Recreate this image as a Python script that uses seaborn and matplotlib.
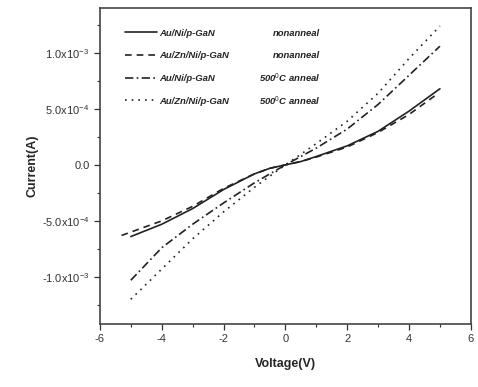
import matplotlib
matplotlib.use("Agg")
import matplotlib.pyplot as plt
import seaborn as sns
import pandas as pd
import numpy as np
from matplotlib.ticker import FixedLocator, FixedFormatter, MultipleLocator

# ---- data ----
v_ni_non = [-5, -4, -3, -2, -1, -0.5, 0, 0.5, 1, 2, 3, 4, 5]
i_ni_non = [-6.4e-4, -5.3e-4, -3.9e-4, -2.2e-4, -0.8e-4, -0.3e-4, 0, 0.3e-4, 0.75e-4, 1.7e-4, 3.0e-4, 4.8e-4, 6.8e-4]

v_zn_non = [-5.3, -5, -4, -3, -2, -1, -0.5, 0, 0.5, 1, 2, 3, 4, 4.9]
i_zn_non = [-6.3e-4, -6.0e-4, -5.0e-4, -3.7e-4, -2.1e-4, -0.8e-4, -0.3e-4, 0, 0.3e-4, 0.7e-4, 1.6e-4, 2.9e-4, 4.5e-4, 6.3e-4]

v_ni_ann = [-5, -4, -3, -2, -1, 0, 1, 2, 3, 4, 5]
i_ni_ann = [-10.3e-4, -7.4e-4, -5.3e-4, -3.4e-4, -1.6e-4, 0, 1.5e-4, 3.2e-4, 5.4e-4, 8.0e-4, 10.6e-4]

v_zn_ann = [-5, -4, -3, -2, -1, 0, 1, 2, 3, 4, 5]
i_zn_ann = [-12.0e-4, -9.3e-4, -6.6e-4, -4.2e-4, -2.0e-4, 0, 1.9e-4, 3.9e-4, 6.4e-4, 9.5e-4, 12.4e-4]

names = ["Au/Ni/p-GaN", "Au/Zn/Ni/p-GaN", "Au/Ni/p-GaN", "Au/Zn/Ni/p-GaN"]
conds = ["nonanneal", "nonanneal", "500$^{0}$C anneal", "500$^{0}$C anneal"]

x_ticks = [-6, -4, -2, 0, 2, 4, 6]
y_ticks = [-1.0e-3, -5.0e-4, 0.0, 5.0e-4, 1.0e-3]
y_tick_labels = ["-1.0x10$^{-3}$", "-5.0x10$^{-4}$", "0.0", "5.0x10$^{-4}$", "1.0x10$^{-3}$"]

sns.set_style("ticks")
plt.rcParams["font.family"] = ["Liberation Sans", "DejaVu Sans"]
plt.rcParams["mathtext.fontset"] = "custom"
plt.rcParams["mathtext.rm"] = "Liberation Sans"
plt.rcParams["mathtext.it"] = "Liberation Sans:italic"
plt.rcParams["axes.unicode_minus"] = False

fig = plt.figure(figsize=(4.78, 3.87), dpi=100)
ax = fig.add_axes([0.209, 0.163, 0.776, 0.816])

series = [
    (v_ni_non, i_ni_non, "-"),
    (v_zn_non, i_zn_non, (0, (4, 3))),
    (v_ni_ann, i_ni_ann, (0, (5, 2, 1, 2))),
    (v_zn_ann, i_zn_ann, (0, (1, 3))),
]
for (vx, iy, ls), nm in zip(series, names):
    df = pd.DataFrame({"V": vx, "I": iy})
    sns.lineplot(data=df, x="V", y="I", ax=ax, color="#222222", lw=1.2,
                 linestyle=ls, label=nm, sort=False)

ax.set_xlim(-6, 6)
ax.set_ylim(-1.42e-3, 1.40e-3)
ax.xaxis.set_major_locator(FixedLocator(x_ticks))
ax.xaxis.set_minor_locator(MultipleLocator(1))
ax.yaxis.set_major_locator(FixedLocator(y_ticks))
ax.yaxis.set_major_formatter(FixedFormatter(y_tick_labels))
ax.yaxis.set_minor_locator(MultipleLocator(2.5e-4))
ax.tick_params(axis="both", which="major", labelsize=8, length=4, width=0.9, colors="#333333")
ax.tick_params(axis="both", which="minor", length=2.5, width=0.8, color="#333333")
for s in ax.spines.values():
    s.set_linewidth(1.2)
    s.set_color("#444444")

ax.set_xlabel("Voltage(V)", fontsize=9, fontweight="bold", labelpad=10)
ax.set_ylabel("Current(A)", fontsize=9, fontweight="bold", labelpad=2)

leg = ax.legend(loc="upper left", bbox_to_anchor=(0.045, 0.962), frameon=False,
                handlelength=3.4, handletextpad=0.2, labelspacing=1.45,
                prop={"style": "italic", "weight": "bold", "size": 6.8})
# second column of legend: condition text, aligned with legend rows
fig.canvas.draw()
renderer = fig.canvas.get_renderer()
inv = ax.transAxes.inverted()
for txt, cond in zip(leg.get_texts(), conds):
    bb = txt.get_window_extent(renderer)
    ymid = inv.transform((0, (bb.y0 + bb.y1) / 2))[1]
    ax.text(0.594, ymid, cond, transform=ax.transAxes, ha="right", va="center",
            fontsize=6.8, style="italic", fontweight="bold", color="#222222")

fig.savefig("out.png", dpi=100)
